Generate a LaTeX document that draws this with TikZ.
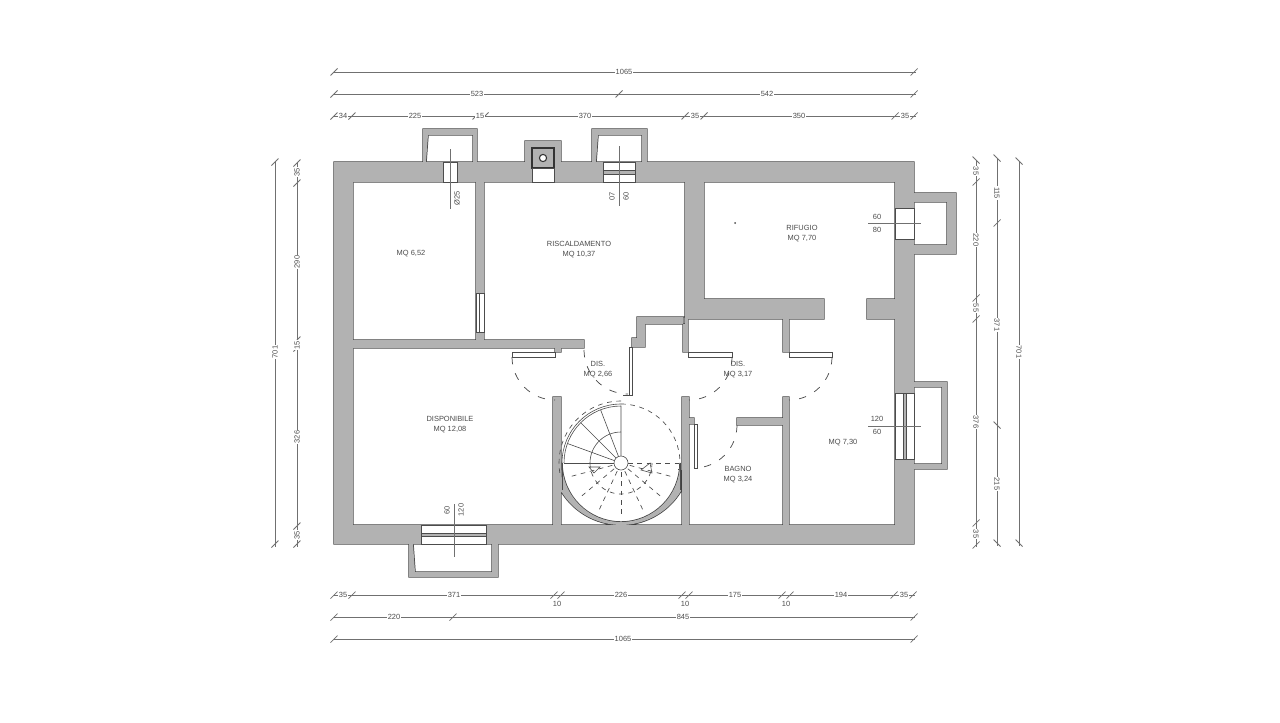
\documentclass[tikz,border=0pt]{standalone}
\usepackage{fontspec}
\setmainfont{Liberation Sans}
\usepackage{xcolor}
\usepackage{tikz}
\usetikzlibrary{calc}
\usetikzlibrary{positioning}
\definecolor{wallgray}{gray}{0.70}
\definecolor{inkgray}{gray}{0.3}
\tikzstyle{lab} = [draw = none, inner sep = 0.6, text = inkgray, font = \fontsize{5.6}{6}\selectfont]
\tikzstyle{dimlab} = [lab, fill = white, inner sep = 0.8]
\tikzstyle{dimline} = [draw = inkgray!80, line width = 0.55]
\tikzstyle{leaf} = [draw = inkgray, line width = 0.5, fill = white]
\tikzstyle{opening} = [draw = inkgray, line width = 0.6, fill = white]
\tikzstyle{swing} = [draw = inkgray, line width = 0.55, dash pattern = on 5.5pt off 7pt]
\tikzstyle{tread} = [draw = inkgray, line width = 0.45]
\tikzstyle{treaddash} = [draw = inkgray, line width = 0.5, dash pattern = on 3.5pt off 3.5pt]
\tikzset{
  walls/.style = {insert path = {
    (334, 162) rectangle (353, 544) (334, 162) rectangle (914, 182)
    (895, 162) rectangle (914, 544) (334, 525) rectangle (914, 544)
    (476, 182) rectangle (484, 340) (353, 340) rectangle (584, 348)
    (555, 348) rectangle (561, 352) (685, 182) rectangle (704, 319)
    (685, 299) rectangle (824, 319) (867, 299) rectangle (895, 319)
    (683, 317) rectangle (688, 352)
    (637, 317) -- (685, 317) -- (685, 324) -- (645, 324) -- (645, 347) -- (632, 347) -- (632, 338) -- (637, 338) -- cycle
    (553, 397) rectangle (561, 525) (682, 397) rectangle (689, 525)
    (783, 397) rectangle (789, 525) (783, 319) rectangle (789, 352)
    (737, 418) rectangle (783, 425) (689, 418) rectangle (694, 424)
    (423, 162) -- (423, 129) -- (477, 129) -- (477, 162) -- (473, 162) -- (473, 135) -- (428, 135) -- (426, 162) -- cycle
    (592, 162) -- (592, 129) -- (647, 129) -- (647, 162) -- (642, 162) -- (642, 135) -- (598, 135) -- (596, 162) -- cycle
    (525, 162) -- (525, 141) -- (561, 141) -- (561, 162) -- cycle
    (914, 193) -- (956, 193) -- (956, 254) -- (914, 254) -- (914, 245) -- (947, 245) -- (947, 202) -- (914, 202) -- cycle
    (914, 382) -- (947, 382) -- (947, 469) -- (914, 469) -- (914, 464) -- (942, 464) -- (942, 387) -- (914, 387) -- cycle
    (409, 544) -- (409, 577) -- (498, 577) -- (498, 544) -- (492, 544) -- (492, 572) -- (415, 572) -- (413, 544) -- cycle
    (561, 491) arc [start angle = 149, end angle = 31, radius = 70] -- (680, 463) arc [start angle = 0, end angle = 180, radius = 59] -- cycle
  }}
}
% dimension ticks at (x, y), leaning either way
\newcommand{\dimtick}[2]{\draw [dimline] (#1 - 3.5, #2 + 3.5) -- (#1 + 3.5, #2 - 3.5);}
\newcommand{\dimback}[2]{\draw [dimline] (#1 - 3.5, #2 - 3.5) -- (#1 + 3.5, #2 + 3.5);}

\begin{document}
\begin{tikzpicture}[x = 0.75pt, y = -0.75pt]
\useasboundingbox (0, 0) rectangle (1280, 722);
\fill [white] (0, 0) rectangle (1280, 722);

% walls
\draw [draw = black!75, line width = 1.1, walls];
\fill [wallgray, walls];

% chimney
\draw [draw = black!80, line width = 0.9, fill = wallgray] (532, 148) rectangle (554, 168);
\draw [opening] (532, 168) rectangle (554, 182);
\draw [draw = black!80, line width = 0.8, fill = white] (543, 158) circle (3.6);

% windows
\draw [opening] (443, 162) rectangle (457, 182);
\draw [opening] (603, 162) rectangle (635, 182);
\draw [opening, fill = wallgray] (603, 170) rectangle (635, 174);
\draw [opening] (895, 208) rectangle (914, 239);
\draw [opening] (895, 393) rectangle (914, 459);
\draw [opening, fill = wallgray] (903, 393) rectangle (906, 459);
\draw [opening] (421, 525) rectangle (486, 544);
\draw [opening, fill = wallgray] (421, 533) rectangle (486, 536);
\draw [opening] (476, 293) rectangle (484, 332);
\draw [opening] (479.5, 293) -- (479.5, 332);

% door leaves
\draw [leaf] (512, 357) -- (512, 352) -- (555, 352) -- (555, 357) -- cycle;
\draw [leaf] (688, 352) rectangle (732, 357);
\draw [leaf] (789, 352) rectangle (832, 357);
\draw [leaf] (694, 424) rectangle (697, 468);
\draw [leaf] (694, 468) -- (697, 468);
\draw [leaf] (629, 347) rectangle (632, 395);
\draw [leaf] (623, 395) -- (632, 395);

% door swings
\draw [swing] (512, 357) arc [start angle = 180, end angle = 90, radius = 43];
\draw [swing] (584, 350) arc [start angle = 180, end angle = 90, radius = 44];
\draw [swing] (732, 357) arc [start angle = 0, end angle = 90, radius = 43];
\draw [swing] (832, 357) arc [start angle = 0, end angle = 90, radius = 43];
\draw [swing] (737, 425) arc [start angle = 0, end angle = 90, radius = 43];

% spiral stair
\coordinate (C) at (621, 463);
\draw [tread] (C) ++(180:57) arc [start angle = 180, end angle = 270, radius = 57] -- ++(0, 53);
\draw [tread] (C) ++(180:59) arc [start angle = 180, end angle = 270, radius = 59];
\draw [tread] (562, 463) -- (562, 490);
\draw [tread] (680, 463) -- (680, 490);
\foreach \ang in {180, 200, 225, 249}
  \draw [tread] (C) ++(\ang:7) -- ++(\ang:50);
\draw [tread] (C) ++(180:31) arc [start angle = 180, end angle = 270, radius = 31];
\draw [tread] (589, 467) -- (600, 467) -- (594, 473) -- cycle;
\draw [tread] (650, 463) -- (641, 470) -- (652, 473) -- cycle;
\draw [treaddash] (C) ++(270:59) arc [start angle = 270, end angle = 360, radius = 59];
\draw [treaddash] (C) ++(270:62) arc [start angle = 270, end angle = 170, radius = 62];
\draw [treaddash] (628, 463) -- (678, 463) -- (678, 470);
\foreach \ang in {15, 40, 65, 90, 115, 140, 165}
  \draw [treaddash] (C) ++(\ang:9) -- ++(\ang:46);
\draw [treaddash] (C) ++(180:31) arc [start angle = 180, end angle = 0, radius = 31];
\draw [tread, fill = white] (C) circle (7);

% centre lines
\draw [dimline] (450, 149) -- (450, 209);
\draw [dimline] (619, 146) -- (619, 206);
\draw [dimline] (868, 223) -- (921, 223);
\draw [dimline] (868, 426) -- (921, 426);
\draw [dimline] (454, 504) -- (454, 557);
\fill [inkgray] (735, 223) circle (1);

% room labels
\node [lab] (roomA) at (411, 254) {MQ 6,52};
\node [lab] (roomB) at (579, 244) {RISCALDAMENTO};
\node [lab, below = 2pt of roomB] (roomBm) {MQ 10,37};
\node [lab] (roomC) at (802, 228) {RIFUGIO};
\node [lab, below = 2pt of roomC] (roomCm) {MQ 7,70};
\node [lab] (roomD) at (450, 419) {DISPONIBILE};
\node [lab, below = 2pt of roomD] (roomDm) {MQ 12,08};
\node [lab] (roomE) at (598, 364) {DIS.};
\node [lab, below = 2pt of roomE] (roomEm) {MQ 2,66};
\node [lab] (roomF) at (738, 364) {DIS.};
\node [lab, below = 2pt of roomF] (roomFm) {MQ 3,17};
\node [lab] (roomG) at (738, 469) {BAGNO};
\node [lab, below = 2pt of roomG] (roomGm) {MQ 3,24};
\node [lab] (roomH) at (843, 443) {MQ 7,30};

% window labels
\node [lab, rotate = 90] (winA) at (457, 198) {Ø25};
\node [lab, rotate = 90] (winB) at (612, 196) {07};
\node [lab, rotate = 90] (winBb) at (626, 196) {60};
\node [lab] (winC) at (877, 217) {60};
\node [lab] (winCb) at (877, 230) {80};
\node [lab] (winD) at (877, 419) {120};
\node [lab] (winDb) at (877, 432) {60};
\node [lab, rotate = 90] (winE) at (447, 510) {60};
\node [lab, rotate = 90] (winEb) at (461, 510) {120};

% dimension lines, top and bottom
\foreach \yy/\xa/\xb in {72/334/916, 94/334/916, 116/334/916, 595/334/915, 617/334/915, 639/334/915}
  \draw [dimline] (\xa, \yy) -- (\xb, \yy);
\foreach \tx in {334, 914} {\dimtick{\tx}{72}}
\foreach \tx in {334, 619, 914} {\dimtick{\tx}{94}}
\foreach \tx in {334, 352, 476, 485, 685, 704, 895, 914} {\dimtick{\tx}{116}}
\foreach \tx in {334, 352, 554, 561, 682, 689, 782, 790, 894, 913} {\dimtick{\tx}{595}}
\foreach \tx in {334, 453, 914} {\dimtick{\tx}{617}}
\foreach \tx in {334, 914} {\dimtick{\tx}{639}}
\node [dimlab] (t1) at (624, 72) {1065};
\node [dimlab] (t2) at (477, 94) {523};
\node [dimlab] (t3) at (767, 94) {542};
\node [dimlab] (t4) at (343, 116) {34};
\node [dimlab] (t5) at (415, 116) {225};
\node [dimlab] (t6) at (480, 116) {15};
\node [dimlab] (t7) at (585, 116) {370};
\node [dimlab] (t8) at (695, 116) {35};
\node [dimlab] (t9) at (799, 116) {350};
\node [dimlab] (t10) at (905, 116) {35};
\node [dimlab] (b1) at (343, 595) {35};
\node [dimlab] (b2) at (454, 595) {371};
\node [dimlab] (b3) at (621, 595) {226};
\node [dimlab] (b4) at (735, 595) {175};
\node [dimlab] (b5) at (841, 595) {194};
\node [dimlab] (b6) at (904, 595) {35};
\node [lab] (b7) at (557, 604) {10};
\node [lab] (b8) at (685, 604) {10};
\node [lab] (b9) at (786, 604) {10};
\node [dimlab] (b10) at (394, 617) {220};
\node [dimlab] (b11) at (683, 617) {845};
\node [dimlab] (b12) at (623, 639) {1065};

% dimension lines, left and right
\foreach \xx/\ya/\yb in {275/162/547, 297/162/547, 976/160/547, 997/158/546, 1019/161/546}
  \draw [dimline] (\xx, \ya) -- (\xx, \yb);
\foreach \ty in {162, 544} {\dimtick{275}{\ty}}
\foreach \ty in {163, 183, 340, 348, 526, 544} {\dimtick{297}{\ty}}
\foreach \ty in {182, 298, 319, 523, 545} {\dimtick{976}{\ty}}
\dimback{976}{160}
\foreach \ty in {158, 425, 543} {\dimback{997}{\ty}}
\dimtick{997}{223}
\foreach \ty in {161, 543} {\dimback{1019}{\ty}}
\node [dimlab, rotate = 90] (l1) at (275, 352) {701};
\node [dimlab, rotate = 90] (l2) at (297, 172) {35};
\node [dimlab, rotate = 90] (l3) at (297, 262) {290};
\node [dimlab, rotate = 90] (l4) at (297, 345) {15};
\node [dimlab, rotate = 90] (l5) at (297, 437) {326};
\node [dimlab, rotate = 90] (l6) at (297, 535) {35};
\node [dimlab, rotate = -90] (r1) at (976, 171) {35};
\node [dimlab, rotate = -90] (r2) at (976, 240) {220};
\node [dimlab, rotate = -90] (r3) at (976, 308) {55};
\node [dimlab, rotate = -90] (r4) at (976, 422) {376};
\node [dimlab, rotate = -90] (r5) at (976, 534) {35};
\node [dimlab, rotate = -90] (r6) at (997, 193) {115};
\node [dimlab, rotate = -90] (r7) at (997, 325) {371};
\node [dimlab, rotate = -90] (r8) at (997, 484) {215};
\node [dimlab, rotate = -90] (r9) at (1019, 352) {701};
\end{tikzpicture}
\end{document}
